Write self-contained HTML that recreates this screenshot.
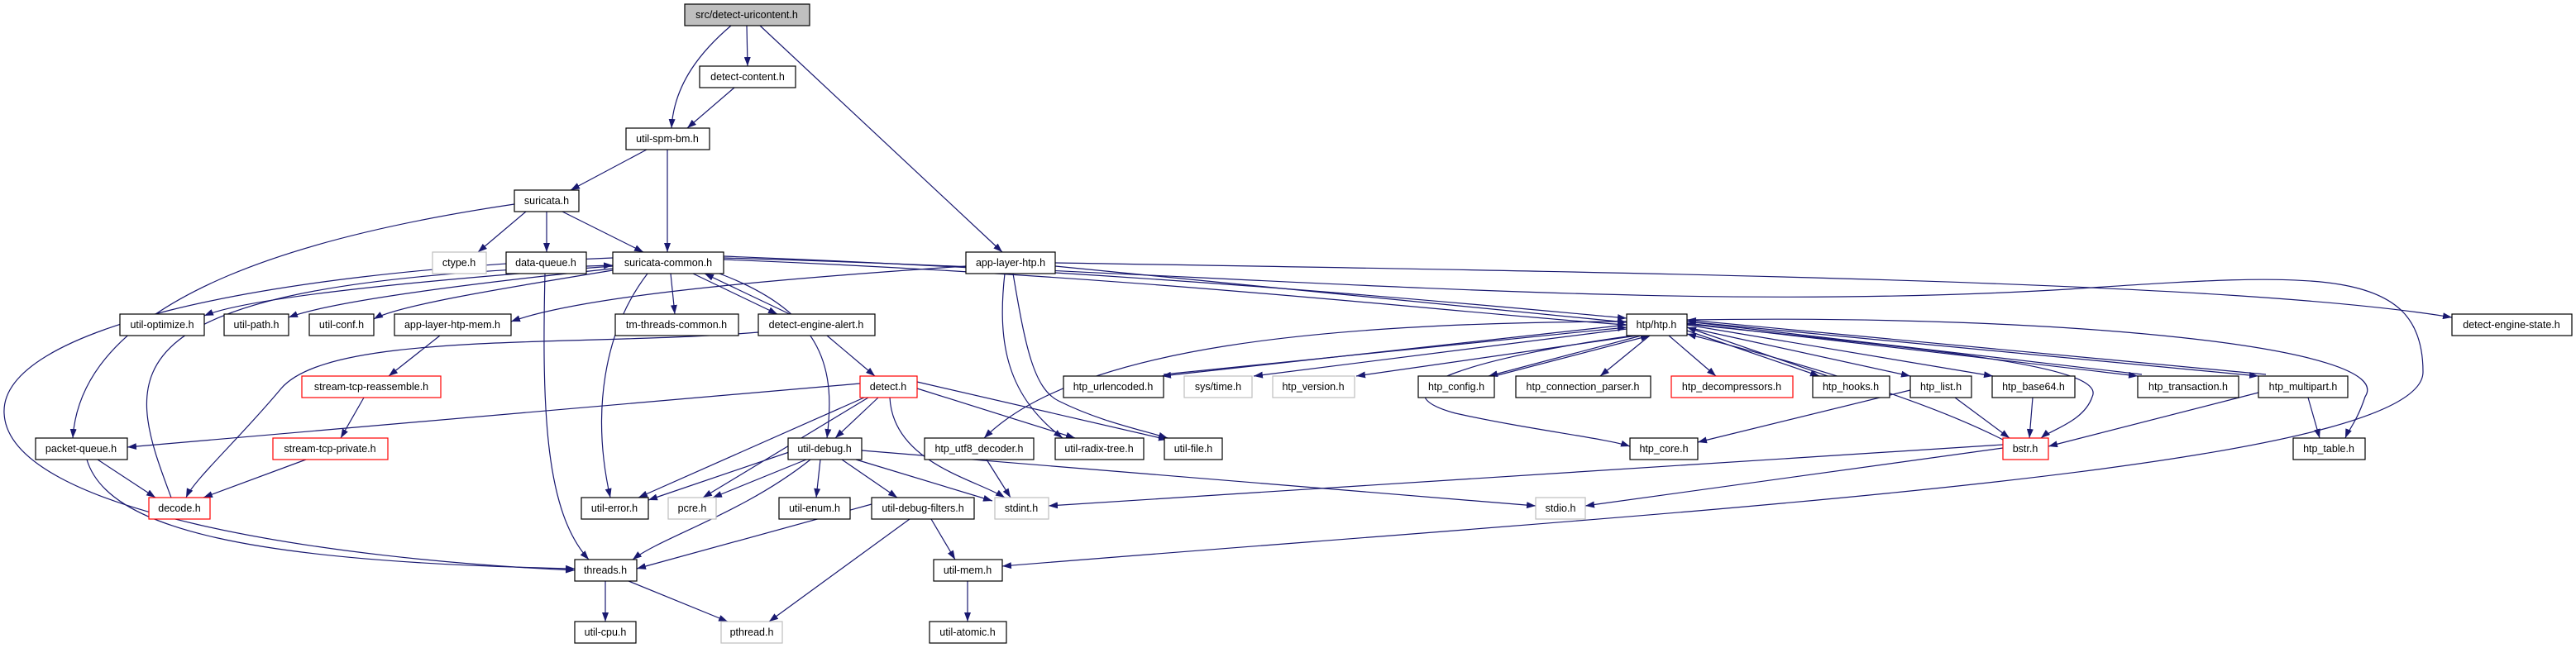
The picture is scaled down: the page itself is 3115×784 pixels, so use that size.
<!DOCTYPE html>
<html><head><meta charset="utf-8"><style>
html,body{margin:0;padding:0;background:#fff;}
svg{display:block}
text{font-family:"Liberation Sans",sans-serif;font-size:12.5px;fill:#000;text-anchor:middle}
.e{fill:none;stroke:#191970;stroke-width:1.2}
.n{fill:#fff;stroke:#000;stroke-width:1.2}
.g{fill:#fff;stroke:#bfbfbf;stroke-width:1.2}
.r{fill:#fff;stroke:#ff0000;stroke-width:1.2}
</style></head><body>
<svg width="3115" height="784" viewBox="0 0 3115 784" xmlns="http://www.w3.org/2000/svg">
<defs><marker id="a" markerWidth="11" markerHeight="8" refX="11" refY="4" orient="auto" markerUnits="userSpaceOnUse"><path d="M0,0 L11,4 L0,8 z" fill="#191970"/></marker></defs>
<g class="e" marker-end="url(#a)">
<path d="M903 31 L904 80"/>
<path d="M884 31 C850 60 815 100 812 155"/>
<path d="M919 31 L1212 305"/>
<path d="M888 106 L831 155"/>
<path d="M782 181 L690 230"/>
<path d="M807 181 L807 305"/>
<path d="M636 256 L578 305"/>
<path d="M661 256 L661 305"/>
<path d="M680 256 L778 305"/>
<path d="M622 247 C400 280 100 350 88 530"/>
<path d="M659 331 C655 500 660 620 712 677"/>
<path d="M741 322 C500 340 300 360 247 382"/>
<path d="M741 325 C550 345 400 365 349 384"/>
<path d="M741 327 C600 350 480 370 452 386"/>
<path d="M811 331 L816 380"/>
<path d="M838 331 L940 380"/>
<path d="M955 380 L852 331"/>
<path d="M783 331 C730 400 715 500 738 602"/>
<path d="M1050 481 L850 602"/>
<path d="M870 331 C1000 380 1010 450 1000 530"/>
<path d="M741 312 C300 330 0 400 5 500 C10 620 400 677 695 690"/>
<path d="M105 556 C130 640 300 680 695 688"/>
<path d="M207 602 C150 450 110 340 741 321"/>
<path d="M118 556 L188 602"/>
<path d="M370 556 L246 602"/>
<path d="M440 481 L412 530"/>
<path d="M532 406 L470 455"/>
<path d="M917 402 C700 420 400 400 340 470 C290 530 235 580 225 602"/>
<path d="M1000 406 L1058 455"/>
<path d="M1168 322 C900 340 700 360 618 389"/>
<path d="M1276 322 L1967 390"/>
<path d="M1215 331 C1205 420 1220 480 1285 530"/>
<path d="M1225 331 C1240 420 1250 470 1280 485 C1330 510 1380 520 1412 530"/>
<path d="M1276 318 C2000 330 2700 340 2965 384"/>
<path d="M875 310 C1400 330 1800 370 1967 385"/>
<path d="M875 314 C1400 335 1750 378 1967 393"/>
<path d="M875 312 C1500 330 2000 380 2500 350 C2800 330 2930 320 2930 450 C2930 570 2000 620 1212 685"/>
<path d="M1040 464 L154 541"/>
<path d="M1045 481 L772 602"/>
<path d="M1062 481 L1010 530"/>
<path d="M1076 481 C1080 560 1180 580 1215 602"/>
<path d="M1109 470 L1300 530"/>
<path d="M1109 462 L1412 532"/>
<path d="M960 545 L784 605"/>
<path d="M975 556 L862 602"/>
<path d="M992 556 L987 602"/>
<path d="M1018 556 L1085 602"/>
<path d="M1035 556 L1200 606"/>
<path d="M1042 545 L1857 612"/>
<path d="M980 556 C900 620 800 650 765 677"/>
<path d="M1054 610 L770 688"/>
<path d="M1100 628 L930 752"/>
<path d="M1126 628 L1155 677"/>
<path d="M732 703 L732 752"/>
<path d="M760 703 L880 752"/>
<path d="M1170 703 L1170 752"/>
<path d="M1193 556 L1222 602"/>
<path d="M1967 393 L1405 455"/>
<path d="M1407 453 L1967 396"/>
<path d="M1967 398 L1516 455"/>
<path d="M1980 406 L1640 455"/>
<path d="M1985 406 L1800 455"/>
<path d="M1807 455 L1995 406"/>
<path d="M1995 406 L1935 455"/>
<path d="M2018 406 L2075 455"/>
<path d="M2040 400 L2200 455"/>
<path d="M2210 455 L2040 396"/>
<path d="M2040 396 L2310 455"/>
<path d="M2040 393 L2410 455"/>
<path d="M2040 391 L2585 455"/>
<path d="M2590 453 L2040 389"/>
<path d="M2040 389 L2731 455"/>
<path d="M2740 453 L2040 387"/>
<path d="M1967 389 C1600 390 1300 420 1190 530"/>
<path d="M1975 406 C1800 430 1650 470 1760 500 C1850 520 1940 530 1971 540"/>
<path d="M2040 392 C2300 420 2550 440 2530 480 C2520 510 2480 520 2468 530"/>
<path d="M2040 387 C2500 380 2900 420 2860 480 C2850 510 2840 520 2836 530"/>
<path d="M2422 532 C2300 470 2100 420 2040 404"/>
<path d="M2310 472 L2053 535"/>
<path d="M2364 481 L2430 530"/>
<path d="M2458 481 L2454 530"/>
<path d="M2731 475 L2477 540"/>
<path d="M2791 481 L2805 530"/>
<path d="M2422 538 L1268 612"/>
<path d="M2422 542 L1917 612"/>
</g>
<rect x="828" y="5" width="151" height="26" fill="#bfbfbf" stroke="#000" stroke-width="1.2"/><text x="903" y="22">src/detect-uricontent.h</text>
<rect class="n" x="846" y="80" width="116" height="26"/><text x="904" y="97">detect-content.h</text>
<rect class="n" x="757" y="155" width="101" height="26"/><text x="807" y="172">util-spm-bm.h</text>
<rect class="n" x="622" y="230" width="78" height="26"/><text x="661" y="247">suricata.h</text>
<rect class="g" x="523" y="305" width="65" height="26"/><text x="555" y="322">ctype.h</text>
<rect class="n" x="612" y="305" width="97" height="26"/><text x="660" y="322">data-queue.h</text>
<rect class="n" x="741" y="305" width="134" height="26"/><text x="808" y="322">suricata-common.h</text>
<rect class="n" x="1168" y="305" width="108" height="26"/><text x="1222" y="322">app-layer-htp.h</text>
<rect class="n" x="145" y="380" width="102" height="26"/><text x="196" y="397">util-optimize.h</text>
<rect class="n" x="271" y="380" width="78" height="26"/><text x="310" y="397">util-path.h</text>
<rect class="n" x="374" y="380" width="78" height="26"/><text x="413" y="397">util-conf.h</text>
<rect class="n" x="477" y="380" width="141" height="26"/><text x="547" y="397">app-layer-htp-mem.h</text>
<rect class="n" x="744" y="380" width="149" height="26"/><text x="818" y="397">tm-threads-common.h</text>
<rect class="n" x="917" y="380" width="141" height="26"/><text x="987" y="397">detect-engine-alert.h</text>
<rect class="n" x="1967" y="380" width="73" height="26"/><text x="2003" y="397">htp/htp.h</text>
<rect class="n" x="2965" y="380" width="145" height="26"/><text x="3037" y="397">detect-engine-state.h</text>
<rect class="r" x="365" y="455" width="168" height="26"/><text x="449" y="472">stream-tcp-reassemble.h</text>
<rect class="r" x="1040" y="455" width="69" height="26"/><text x="1074" y="472">detect.h</text>
<rect class="n" x="1286" y="455" width="121" height="26"/><text x="1346" y="472">htp_urlencoded.h</text>
<rect class="g" x="1432" y="455" width="82" height="26"/><text x="1473" y="472">sys/time.h</text>
<rect class="g" x="1539" y="455" width="99" height="26"/><text x="1588" y="472">htp_version.h</text>
<rect class="n" x="1715" y="455" width="92" height="26"/><text x="1761" y="472">htp_config.h</text>
<rect class="n" x="1833" y="455" width="163" height="26"/><text x="1914" y="472">htp_connection_parser.h</text>
<rect class="r" x="2021" y="455" width="147" height="26"/><text x="2094" y="472">htp_decompressors.h</text>
<rect class="n" x="2192" y="455" width="93" height="26"/><text x="2238" y="472">htp_hooks.h</text>
<rect class="n" x="2310" y="455" width="74" height="26"/><text x="2347" y="472">htp_list.h</text>
<rect class="n" x="2409" y="455" width="100" height="26"/><text x="2459" y="472">htp_base64.h</text>
<rect class="n" x="2585" y="455" width="122" height="26"/><text x="2646" y="472">htp_transaction.h</text>
<rect class="n" x="2731" y="455" width="108" height="26"/><text x="2785" y="472">htp_multipart.h</text>
<rect class="n" x="43" y="530" width="111" height="26"/><text x="98" y="547">packet-queue.h</text>
<rect class="r" x="330" y="530" width="139" height="26"/><text x="399" y="547">stream-tcp-private.h</text>
<rect class="n" x="953" y="530" width="89" height="26"/><text x="997" y="547">util-debug.h</text>
<rect class="n" x="1118" y="530" width="132" height="26"/><text x="1184" y="547">htp_utf8_decoder.h</text>
<rect class="n" x="1276" y="530" width="107" height="26"/><text x="1329" y="547">util-radix-tree.h</text>
<rect class="n" x="1408" y="530" width="70" height="26"/><text x="1443" y="547">util-file.h</text>
<rect class="n" x="1971" y="530" width="82" height="26"/><text x="2012" y="547">htp_core.h</text>
<rect class="r" x="2422" y="530" width="55" height="26"/><text x="2449" y="547">bstr.h</text>
<rect class="n" x="2773" y="530" width="87" height="26"/><text x="2816" y="547">htp_table.h</text>
<rect class="r" x="180" y="602" width="74" height="26"/><text x="217" y="619">decode.h</text>
<rect class="n" x="703" y="602" width="81" height="26"/><text x="743" y="619">util-error.h</text>
<rect class="g" x="808" y="602" width="58" height="26"/><text x="837" y="619">pcre.h</text>
<rect class="n" x="942" y="602" width="86" height="26"/><text x="985" y="619">util-enum.h</text>
<rect class="n" x="1054" y="602" width="124" height="26"/><text x="1116" y="619">util-debug-filters.h</text>
<rect class="g" x="1203" y="602" width="65" height="26"/><text x="1235" y="619">stdint.h</text>
<rect class="g" x="1857" y="602" width="60" height="26"/><text x="1887" y="619">stdio.h</text>
<rect class="n" x="695" y="677" width="75" height="26"/><text x="732" y="694">threads.h</text>
<rect class="n" x="1129" y="677" width="83" height="26"/><text x="1170" y="694">util-mem.h</text>
<rect class="n" x="695" y="752" width="74" height="26"/><text x="732" y="769">util-cpu.h</text>
<rect class="g" x="872" y="752" width="74" height="26"/><text x="909" y="769">pthread.h</text>
<rect class="n" x="1124" y="752" width="93" height="26"/><text x="1170" y="769">util-atomic.h</text>
</svg>
</body></html>
